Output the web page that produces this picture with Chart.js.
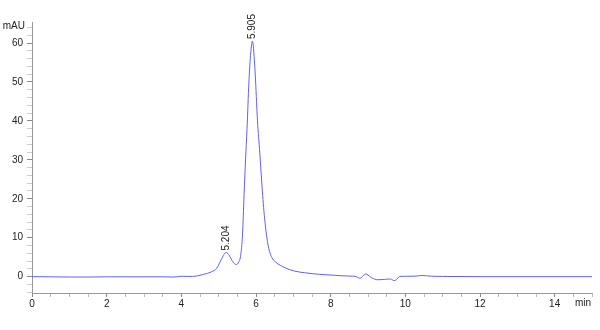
<!DOCTYPE html>
<html>
<head>
<meta charset="utf-8">
<script src="https://cdn.jsdelivr.net/npm/chart.js@4.4.1/dist/chart.umd.min.js"></script>
<style>
html,body{margin:0;padding:0;background:#fff;}
#wrap{width:600px;height:330px;position:relative;}
</style>
</head>
<body>
<div id="wrap"><canvas id="c" width="600" height="330"></canvas></div>
<script>
const times = [0, 0.5, 1, 1.5, 2, 2.5, 3, 3.5, 3.8, 4.0, 4.2, 4.4, 4.6, 4.8, 4.95, 5.05, 5.15, 5.204, 5.28, 5.38, 5.47, 5.54, 5.59, 5.64, 5.68, 5.72, 5.76, 5.81, 5.86, 5.905, 5.95, 5.99, 6.04, 6.10, 6.17, 6.24, 6.33, 6.42, 6.52, 6.65, 6.8, 7.0, 7.3, 7.7, 8.1, 8.5, 8.65, 8.78, 8.85, 8.93, 9.0, 9.1, 9.25, 9.45, 9.6, 9.7, 9.76, 9.85, 10.0, 10.3, 10.45, 10.7, 11, 12, 13, 14, 15];
const signal = [0, -0.05, -0.1, -0.1, -0.05, -0.05, -0.05, -0.05, -0.1, 0.1, 0.05, 0.15, 0.6, 1.2, 2.2, 4.0, 5.8, 6.2, 5.5, 3.8, 3.1, 3.8, 5.5, 11, 21, 30, 38, 50, 57.5, 60.5, 56.5, 50, 40, 32, 22, 14, 7.8, 5.0, 3.8, 2.9, 2.2, 1.5, 1.0, 0.6, 0.35, 0.15, 0.1, -0.4, 0.0, 0.7, 0.4, -0.3, -0.8, -0.7, -0.6, -1.0, -0.8, 0.05, 0.1, 0.15, 0.3, 0.1, 0.05, 0.0, 0.0, 0.0, 0.0];
const peakTimes = [5.204, 5.905];
const peakLabels = ["5.204", "5.905"];
const xMajorTicks = [0, 2, 4, 6, 8, 10, 12, 14];
const yMajorTicks = [0, 10, 20, 30, 40, 50, 60];
const xUnit = "min";
const yUnit = "mAU";

const points = times.map((t, i) => ({x: t, y: signal[i]}));
const FONT = "'Liberation Sans', Arial, sans-serif";

const annot = {
  id: 'annot',
  afterDraw(chart) {
    const ctx = chart.ctx;
    const xs = chart.scales.x, ys = chart.scales.y;
    ctx.save();
    ctx.fillStyle = '#222';
    ctx.font = '10px ' + FONT;
    peakTimes.forEach((t, i) => {
      const idx = times.indexOf(t);
      const px = xs.getPixelForValue(t);
      const py = ys.getPixelForValue(signal[idx]);
      ctx.save();
      ctx.translate(px, py - 2);
      ctx.rotate(-Math.PI / 2);
      ctx.textAlign = 'left';
      ctx.textBaseline = 'middle';
      ctx.fillText(peakLabels[i], 0, 0);
      ctx.restore();
    });
    ctx.textAlign = 'right';
    ctx.textBaseline = 'middle';
    ctx.fillText(yUnit, 25, ys.top + 4);
    ctx.textAlign = 'right';
    ctx.textBaseline = 'top';
    ctx.fillText(xUnit, 591, xs.top + 5);
    ctx.restore();
  }
};

new Chart(document.getElementById('c'), {
  type: 'line',
  data: {
    datasets: [{
      data: points,
      borderColor: '#5f5fff',
      borderWidth: 1,
      pointRadius: 0,
      fill: false,
      cubicInterpolationMode: 'monotone'
    }]
  },
  options: {
    responsive: false,
    animation: false,
    events: [],
    layout: {padding: {top: 22, right: 8, left: 0, bottom: 0}},
    plugins: {legend: {display: false}, tooltip: {enabled: false}},
    scales: {
      x: {
        type: 'linear',
        min: 0, max: 15,
        afterFit(s) { s.height = 37; },
        afterBuildTicks(s) {
          const arr = [];
          for (let v = 0; v <= 15; v += 0.5) arr.push({value: v});
          s.ticks = arr;
        },
        border: {color: '#999', width: 1},
        grid: {
          drawOnChartArea: false,
          drawTicks: true,
          tickLength: 4,
          tickColor: (c) => xMajorTicks.includes(c.tick && c.tick.value) ? '#888' : '#bbb'
        },
        ticks: {
          autoSkip: false,
          maxRotation: 0,
          padding: 1,
          color: '#222',
          font: {family: FONT, size: 10},
          callback: (v) => xMajorTicks.includes(v) ? String(v) : ''
        }
      },
      y: {
        type: 'linear',
        min: -4.2, max: 65.4,
        afterFit(s) { s.width = 32; },
        afterBuildTicks(s) {
          const arr = [];
          for (let v = -4; v <= 64; v += 2) arr.push({value: v});
          s.ticks = arr;
        },
        border: {color: '#999', width: 1},
        grid: {
          drawOnChartArea: false,
          drawTicks: true,
          tickLength: 5,
          tickColor: (c) => yMajorTicks.includes(c.tick && c.tick.value) ? '#888' : '#ccc'
        },
        ticks: {
          autoSkip: false,
          padding: 4,
          color: '#222',
          font: {family: FONT, size: 10},
          callback: (v) => yMajorTicks.includes(v) ? String(v) : ''
        }
      }
    }
  },
  plugins: [annot]
});
</script>
</body>
</html>
